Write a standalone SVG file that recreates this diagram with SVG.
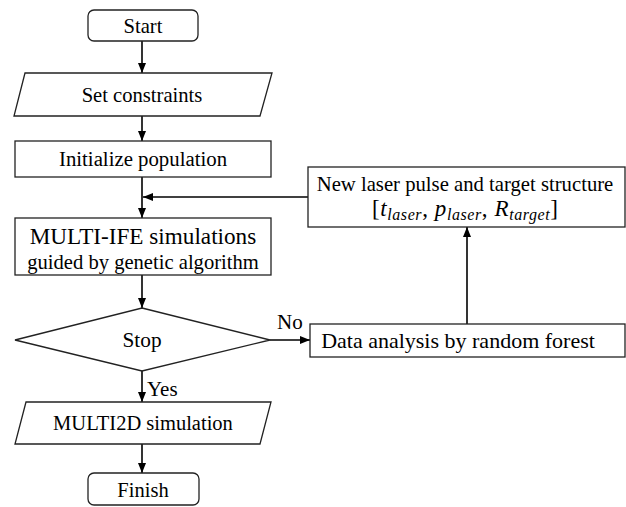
<svg xmlns="http://www.w3.org/2000/svg" width="626" height="507" viewBox="0 0 626 507">
<style>
.shape{fill:#fff;stroke:#222;stroke-width:1.3}
text{font-family:"Liberation Serif","Times New Roman",serif;fill:#000}
.t{text-anchor:middle}
.m{font-style:italic}
.conn{fill:none;stroke:#000;stroke-width:1.6}
</style>
<defs>
<marker id="ah" markerUnits="userSpaceOnUse" markerWidth="10" markerHeight="8" refX="10" refY="4" orient="auto">
<path d="M0,0 L10,4 L0,8 z" fill="#000"/>
</marker>
</defs>
<rect width="626" height="507" fill="#fff"/>
<g id="connectors">
<line class="conn" x1="142" y1="41" x2="142" y2="73" marker-end="url(#ah)"/>
<line class="conn" x1="142" y1="116" x2="142" y2="141" marker-end="url(#ah)"/>
<line class="conn" x1="142" y1="177" x2="142" y2="218" marker-end="url(#ah)"/>
<line class="conn" x1="308" y1="197" x2="143" y2="197" marker-end="url(#ah)"/>
<line class="conn" x1="142" y1="275" x2="142" y2="308" marker-end="url(#ah)"/>
<line class="conn" x1="270" y1="340" x2="310" y2="340" marker-end="url(#ah)"/>
<line class="conn" x1="467" y1="324" x2="467" y2="227" marker-end="url(#ah)"/>
<line class="conn" x1="142" y1="371" x2="142" y2="402" marker-end="url(#ah)"/>
<line class="conn" x1="142" y1="444" x2="142" y2="473" marker-end="url(#ah)"/>
<text font-size="21" x="277" y="329">No</text>
<text font-size="21" x="147" y="396">Yes</text>
</g>
<g id="start">
<rect class="shape" x="88" y="10" width="110" height="31" rx="6"/>
<text class="t" font-size="20.6" x="143" y="33">Start</text>
</g>
<g id="set-constraints">
<polygon class="shape" points="25,73 272,73 260,116 14,116"/>
<text class="t" font-size="20.6" x="142" y="102">Set constraints</text>
</g>
<g id="initialize">
<rect class="shape" x="15" y="141" width="256" height="36"/>
<text class="t" font-size="20.8" x="143" y="166">Initialize population</text>
</g>
<g id="multi-ife">
<rect class="shape" x="15" y="218" width="256" height="57"/>
<text class="t" font-size="23.2" x="143" y="244">MULTI-IFE simulations</text>
<text class="t" font-size="20.6" x="143" y="269">guided by genetic algorithm</text>
</g>
<g id="stop">
<polygon class="shape" points="142,308 270,340 142,371 15,340"/>
<text class="t" font-size="21.3" x="142" y="347">Stop</text>
</g>
<g id="multi2d">
<polygon class="shape" points="26,402 271,402 260,444 15,444"/>
<text class="t" font-size="20.5" x="143" y="430">MULTI2D simulation</text>
</g>
<g id="finish">
<rect class="shape" x="88" y="473" width="111" height="32" rx="6"/>
<text class="t" font-size="20.5" x="143" y="497">Finish</text>
</g>
<g id="new-laser">
<rect class="shape" x="308" y="167" width="317" height="60"/>
<text class="t" font-size="20.7" x="465" y="191">New laser pulse and target structure</text>
<text font-size="23" x="372" y="216" textLength="186" lengthAdjust="spacing">[<tspan class="m">t</tspan><tspan class="m" font-size="16" dy="4">laser</tspan><tspan dy="-4">, </tspan><tspan class="m">p</tspan><tspan class="m" font-size="16" dy="4">laser</tspan><tspan dy="-4">, </tspan><tspan class="m">R</tspan><tspan class="m" font-size="16" dy="4">target</tspan><tspan dy="-4">]</tspan></text>
</g>
<g id="data-analysis">
<rect class="shape" x="310" y="324" width="315" height="33"/>
<text class="t" font-size="22" x="458" y="348">Data analysis by random forest</text>
</g>
</svg>
